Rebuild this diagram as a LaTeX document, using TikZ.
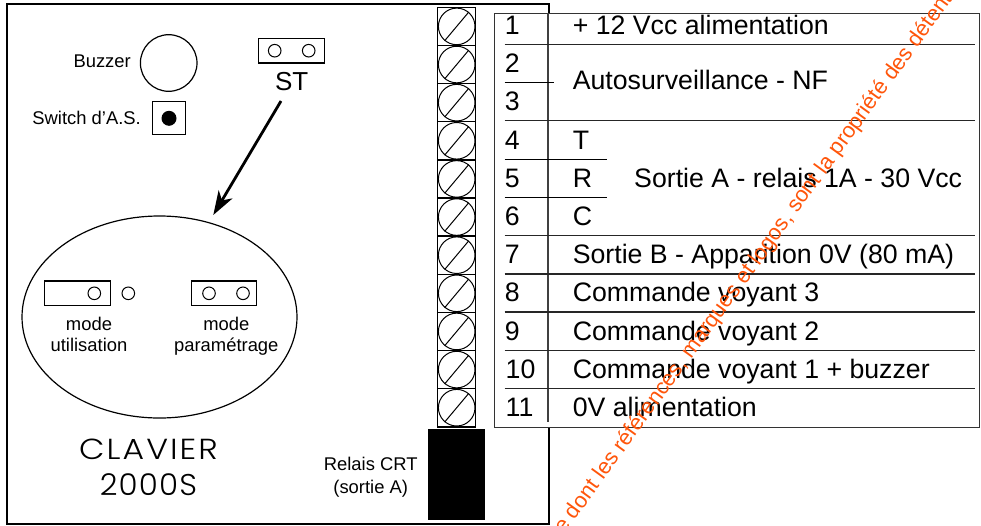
\documentclass[tikz,border=0pt]{standalone}
\usepackage{fontspec}
\setmainfont{Liberation Sans}
\newfontfamily\wideface[LetterSpace=7,FakeStretch=1.14]{Poppins Light}
\newfontfamily\digitface[LetterSpace=4,FakeStretch=1.03]{Poppins Light}
\usetikzlibrary{arrows.meta}
\newcommand{\fs}[1]{\fontsize{#1}{#1}\selectfont}
\definecolor{wm}{RGB}{255,85,10}
\tikzset{
  x=1pt,y=-1pt,
  small/.style={inner sep=0pt,font=\fs{18.4}},
  big/.style={inner sep=0pt,font=\fs{26.7},anchor=base west},
  pin/.style={circle,draw,line width=1pt,minimum size=12.6pt,inner sep=0pt},
  jumper/.style={rectangle,draw,line width=1.3pt,minimum width=65.5pt,minimum height=24.5pt,inner sep=0pt},
  terminal/.style={rectangle,draw,line width=1.5pt,minimum width=38pt,minimum height=38.13pt,inner sep=0pt},
  screw/.style={circle,draw,line width=1pt,minimum size=36.6pt,inner sep=0pt},
  rowline/.style={line width=1.2pt,draw=black!85},
  title/.style={inner sep=0pt,anchor=base},
}
\begin{document}
\begin{tikzpicture}
\useasboundingbox (0,0) rectangle (981,525);
\fill[white] (0,0) rectangle (981,525);
% outer frame
\node[rectangle,draw,line width=2.2pt,minimum width=542pt,minimum height=520pt,inner sep=0pt,anchor=north west] (frame) at (6,3.2) {};
% buzzer, switch, ST
\node[circle,draw,line width=1.2pt,minimum size=56.6pt,inner sep=0pt] (buzzer) at (168.7,63) {};
\node[small,anchor=base east] (buzzerlabel) at (131,67.7) {Buzzer};
\node[rectangle,draw,line width=1.2pt,minimum size=33.4pt,inner sep=0pt] (switch) at (169,118) {};
\node[circle,fill=black,minimum size=15pt,inner sep=0pt] (switchdot) at (169,118.3) {};
\node[small,anchor=base east] (switchlabel) at (141,124) {Switch d'A.S.};
\node[jumper] (stjump) at (291.4,50.7) {};
\node[pin] (stpa) at (274.7,50.7) {};
\node[pin] (stpb) at (308.7,50.7) {};
\node[inner sep=0pt,font=\fs{26},anchor=base] (st) at (291.7,90.7) {ST};
% ellipse
\draw[line width=1.2pt] (159.5,317) ellipse [x radius=137.5,y radius=101];
\coordinate (arrowstart) at (281,101);
\coordinate (arrowtip) at (213.3,215);
\draw[line width=2.8pt,-{Stealth[length=24pt,width=16pt,inset=7pt]}] (arrowstart) -- (arrowtip);
% mode jumpers
\node[jumper] (useja) at (77.4,293.3) {};
\node[pin] (usepa) at (94.3,293.3) {};
\node[pin] (usepb) at (128.3,293.3) {};
\node[jumper] (parj) at (224,293.3) {};
\node[pin] (parpa) at (209,293.3) {};
\node[pin] (parpb) at (243,293.3) {};
\node[small,anchor=base] (usea) at (89,330) {mode};
\node[small,anchor=base] (useb) at (89,351.7) {utilisation};
\node[small,anchor=base] (para) at (226.3,330) {mode};
\node[small,anchor=base] (parb) at (226.3,351.7) {paramétrage};
% title
\node[title,font=\wideface\fs{29}] (claviera) at (148.5,459) {CLAVIER};
\node[title,font=\digitface\fs{30}] (clavierb) at (148.5,495) {2000S};
% relay
\node[small,anchor=base] (relaisa) at (370.7,470.7) {Relais CRT};
\node[small,anchor=base] (relaisb) at (370.7,493) {(sortie A)};
\node[rectangle,fill=black,minimum width=57.3pt,minimum height=91pt,inner sep=0pt,anchor=north west] (relay) at (427.7,429) {};
% table
\node[rectangle,draw=black!80,fill=white,line width=1.5pt,minimum width=485pt,minimum height=414pt,inner sep=0pt,anchor=north west] (table) at (493.5,12.5) {};
\coordinate (vtop) at (548,12.5);
\coordinate (vbot) at (548,421.7);
\draw[line width=1.7pt,draw=black!75] (vtop) -- (vbot);
\foreach \y in {44.2,120.7,235.6,273.9,312,350.2,388.4}
  \draw[rowline] (504.6,\y) -- (975,\y);
\draw[line width=1pt] (504.6,82.3) -- (554,82.3);
\draw[line width=1pt] (504.6,159) -- (607,159);
\draw[line width=1pt] (504.6,197.2) -- (607,197.2);
% terminal block
\foreach \i in {0,...,10}{
  \node[terminal] (t\i) at (456.7,{26.4+38.13*\i}) {};
  \node[screw] (s\i) at (456.7,{26.4+38.13*\i}) {};
  \draw[line width=1pt] (s\i.230) -- (s\i.50);
}
% row numbers
\foreach \n [count=\c from 0] in {1,...,9}
  \node[big] (n\n) at (504.6,{34.5+38.2*\c}) {\n};
\node[big] (n10) at (505.5,378.3) {10};
\node[big] (n11) at (505.5,416.5) {11};
% row texts
\node[big] (ta) at (572.6,34.5) {+ 12 Vcc alimentation};
\node[big] (tb) at (572.6,89.3) {Autosurveillance - NF};
\node[big] (tt) at (572.6,149.1) {T};
\node[big] (tr) at (572.6,187.3) {R};
\node[big] (tc) at (572.6,225.5) {C};
\node[big] (tsa) at (634,187.3) {Sortie A - relais 1A - 30 Vcc};
\node[big] (tsb) at (572.6,263.7) {Sortie B - Apparition 0V (80 mA)};
\node[big] (tv3) at (572.6,301.9) {Commande voyant 3};
\node[big] (tv2) at (572.6,340.1) {Commande voyant 2};
\node[big] (tv1) at (572.6,378.3) {Commande voyant 1 + buzzer};
\node[big] (t0v) at (572.6,416.5) {0V alimentation};
% watermark
\clip (0,0) rectangle (981,525);
\node[inner sep=0pt,anchor=base west,rotate=54,text=wm,font=\fs{21.9}] (watermark) at (564,535) {e dont les références, marques et logos, sont la propriété des détenteurs};
\end{tikzpicture}
\end{document}
